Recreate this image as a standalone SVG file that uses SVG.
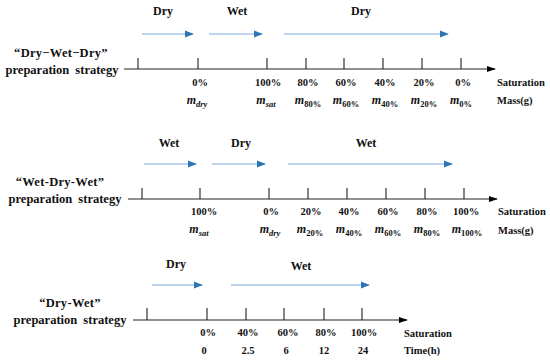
<svg xmlns="http://www.w3.org/2000/svg" width="550" height="364" viewBox="0 0 550 364" font-family="'Liberation Serif', 'DejaVu Serif', serif">
<defs>
<marker id="bh" viewBox="0 0 10 10" refX="9" refY="5" markerWidth="9" markerHeight="9" markerUnits="userSpaceOnUse" orient="auto"><path d="M0,1 L10,5 L0,9 Z" fill="#2e75b6"/></marker>
<marker id="ah" viewBox="0 0 10 10" refX="9" refY="5" markerWidth="9" markerHeight="9" markerUnits="userSpaceOnUse" orient="auto"><path d="M0,1.5 L10,5 L0,8.5 Z" fill="#000"/></marker>
</defs>
<style>
text{font-family:'Liberation Serif','DejaVu Serif',serif;font-weight:bold;fill:#111}
.ph{font-size:12px;text-anchor:middle}
.lb{font-size:12.5px;text-anchor:middle}
.pc{font-size:10.5px;text-anchor:middle}
.ax{font-size:10.5px}
.m{font-size:12px;text-anchor:middle;font-style:italic}
.sub{font-size:8.5px;font-style:normal}
.si{font-size:8.5px;font-style:italic}
.axis{stroke:#222;stroke-width:1.2;fill:none}
.tick{stroke:#222;stroke-width:1.1}
.blue{stroke:#7fa9dc;stroke-width:1.1;fill:none}
</style>
<rect width="550" height="364" fill="#fff"/>

<g id="strategy1">
<text class="ph" x="163" y="15">Dry</text>
<text class="ph" x="237" y="15">Wet</text>
<text class="ph" x="361" y="15">Dry</text>
<text class="lb" x="61" y="57" letter-spacing="0.3">“Dry−Wet−Dry”</text>
<text class="lb" x="62" y="74" word-spacing="3">preparation strategy</text>
<g class="pc">
<text x="200" y="86">0%</text><text x="268" y="86">100%</text><text x="308" y="86">80%</text><text x="346" y="86">60%</text><text x="385" y="86">40%</text><text x="424" y="86">20%</text><text x="463" y="86">0%</text>
</g>
<text class="ax" x="497" y="86">Saturation</text>
<text class="ax" x="497" y="104">Mass(g)</text>
<g class="m">
<text x="197" y="104">m<tspan class="si" dy="2.5">dry</tspan></text>
<text x="266" y="104">m<tspan class="si" dy="2.5">sat</tspan></text>
<text x="308" y="104">m<tspan class="sub" dy="2.5">80%</tspan></text>
<text x="346" y="104">m<tspan class="sub" dy="2.5">60%</tspan></text>
<text x="385" y="104">m<tspan class="sub" dy="2.5">40%</tspan></text>
<text x="424" y="104">m<tspan class="sub" dy="2.5">20%</tspan></text>
<text x="461" y="104">m<tspan class="sub" dy="2.5">0%</tspan></text>
</g>
</g>

<g id="strategy2">
<text class="ph" x="169" y="147">Wet</text>
<text class="ph" x="241" y="147">Dry</text>
<text class="ph" x="366" y="147">Wet</text>
<text class="lb" x="60" y="186" letter-spacing="0.3">“Wet-Dry-Wet”</text>
<text class="lb" x="65" y="203" word-spacing="3">preparation strategy</text>
<g class="pc">
<text x="204" y="215">100%</text><text x="271" y="215">0%</text><text x="311" y="215">20%</text><text x="349" y="215">40%</text><text x="388" y="215">60%</text><text x="427" y="215">80%</text><text x="466" y="215">100%</text>
</g>
<text class="ax" x="498" y="215">Saturation</text>
<text class="ax" x="498" y="234">Mass(g)</text>
<g class="m">
<text x="199" y="233">m<tspan class="si" dy="2.5">sat</tspan></text>
<text x="270" y="233">m<tspan class="si" dy="2.5">dry</tspan></text>
<text x="310" y="233">m<tspan class="sub" dy="2.5">20%</tspan></text>
<text x="349" y="233">m<tspan class="sub" dy="2.5">40%</tspan></text>
<text x="388" y="233">m<tspan class="sub" dy="2.5">60%</tspan></text>
<text x="427" y="233">m<tspan class="sub" dy="2.5">80%</tspan></text>
<text x="467" y="233">m<tspan class="sub" dy="2.5">100%</tspan></text>
</g>
</g>

<g id="strategy3">
<text class="ph" x="176" y="268">Dry</text>
<text class="ph" x="301" y="270">Wet</text>
<text class="lb" x="70" y="307" letter-spacing="0.3">“Dry-Wet”</text>
<text class="lb" x="70" y="324" word-spacing="3">preparation strategy</text>
<g class="pc">
<text x="208" y="336">0%</text><text x="248" y="336">40%</text><text x="288" y="336">60%</text><text x="326" y="336">80%</text><text x="364" y="336">100%</text>
</g>
<text class="ax" x="404" y="337">Saturation</text>
<text class="ax" x="404" y="354">Time(h)</text>
<g class="pc">
<text x="204" y="354">0</text><text x="248" y="354">2.5</text><text x="286" y="354">6</text><text x="324" y="354">12</text><text x="363" y="354">24</text>
</g>
</g>

<g id="connectors">
<path class="axis" d="M124,69 H495" marker-end="url(#ah)"/>
<path class="tick" d="M138,58V69M198,58V69M267,58V69M306,58V69M344,58V69M383,58V69M422,58V69M461,58V69"/>
<path class="blue" d="M142,34H193" marker-end="url(#bh)"/>
<path class="blue" d="M209,34H262" marker-end="url(#bh)"/>
<path class="blue" d="M284,34H448" marker-end="url(#bh)"/>

<path class="axis" d="M128,199 H497" marker-end="url(#ah)"/>
<path class="tick" d="M142,188V199M200,188V199M269,188V199M308,188V199M347,188V199M386,188V199M425,188V199M464,188V199"/>
<path class="blue" d="M144,164H196" marker-end="url(#bh)"/>
<path class="blue" d="M212,164H265" marker-end="url(#bh)"/>
<path class="blue" d="M288,164H452" marker-end="url(#bh)"/>

<path class="axis" d="M133,320 H407" marker-end="url(#ah)"/>
<path class="tick" d="M147,308V320M207,308V320M246,308V320M284,308V320M324,308V320M362,308V320"/>
<path class="blue" d="M152,285H202" marker-end="url(#bh)"/>
<path class="blue" d="M231,285H369" marker-end="url(#bh)"/>
</g>
</svg>
